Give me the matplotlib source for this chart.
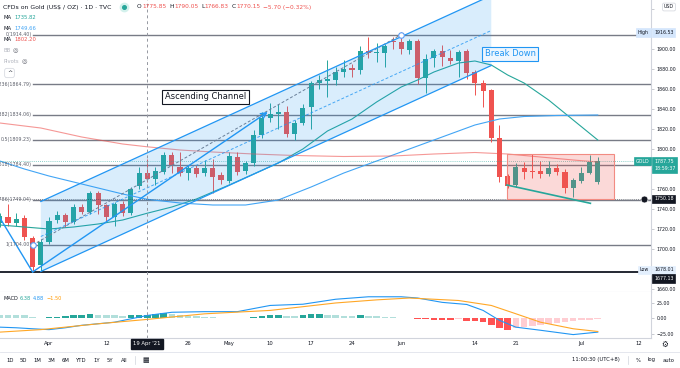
import numpy as np
import matplotlib.pyplot as plt
import matplotlib.transforms as mtransforms
from matplotlib.patches import Polygon, Rectangle

UP = '#26a69a'
DOWN = '#ef5350'
TEXT = '#131722'
GREY = '#787b86'
BLUE = '#2196f3'

# daily bars, bar 0 = 1 Apr 2021, bar 12 = 19 Apr (crosshair)
first_bar = -6
opens = [1726, 1732, 1726, 1731, 1711, 1684, 1707, 1729, 1734, 1727,
         1742, 1737, 1756, 1744, 1732, 1745, 1736, 1763, 1775.85, 1770,
         1777, 1794, 1782, 1776, 1781, 1776, 1781, 1774, 1768, 1792,
         1778, 1786, 1814, 1831, 1835, 1837, 1815, 1826, 1842, 1866,
         1868, 1869, 1877, 1881, 1879, 1898, 1896, 1896, 1908, 1907,
         1899, 1908, 1871, 1891, 1898, 1891, 1888, 1898, 1877, 1866,
         1859, 1811, 1773, 1764, 1781, 1778, 1778, 1775, 1781, 1777,
         1761, 1768, 1776, 1767]
highs = [1736, 1745, 1736, 1734, 1713, 1710, 1732, 1738, 1736, 1745,
         1745, 1758, 1758, 1745, 1747, 1748, 1762, 1782, 1790.05, 1782,
         1797, 1797, 1797, 1784, 1784, 1789, 1790, 1777, 1797, 1797,
         1788, 1819, 1837, 1846, 1845, 1843, 1829, 1845, 1868, 1874,
         1889, 1882, 1889, 1885, 1903, 1912, 1906, 1905, 1912, 1916.53,
         1910, 1910, 1895, 1900, 1904, 1899, 1899, 1900, 1879, 1869,
         1860, 1824, 1775, 1786, 1787, 1795, 1788, 1788, 1785, 1780,
         1771, 1782, 1794, 1792]
lows = [1722, 1723, 1723, 1709, 1677, 1678, 1705, 1726, 1722, 1725,
        1735, 1735, 1735, 1727, 1723, 1733, 1734, 1760, 1766.83, 1764,
        1775, 1776, 1773, 1769, 1772, 1773, 1756, 1765, 1766, 1774,
        1775, 1783, 1811, 1827, 1820, 1812, 1809, 1824, 1820, 1860,
        1852, 1864, 1872, 1872, 1875, 1891, 1887, 1882, 1900, 1895,
        1895, 1865, 1856, 1882, 1883, 1885, 1872, 1870, 1854, 1842,
        1807, 1767, 1761, 1762, 1770, 1771, 1771, 1773, 1774, 1756,
        1752, 1766, 1775, 1765]
closes = [1733, 1726, 1730, 1712, 1682, 1707, 1728, 1734, 1727, 1742,
          1737, 1756, 1744, 1732, 1745, 1736, 1760, 1776, 1770.15, 1778,
          1794, 1784, 1776, 1781, 1775, 1781, 1772, 1769, 1793, 1777,
          1786, 1814, 1831, 1835, 1837, 1815, 1826, 1841, 1866, 1869,
          1870, 1877, 1880, 1879, 1898, 1896, 1897, 1903, 1907, 1900,
          1908, 1871, 1890, 1898, 1892, 1888, 1897, 1876, 1866, 1858,
          1811, 1772, 1763, 1782, 1777, 1777, 1775, 1781, 1777, 1761,
          1769, 1776, 1787, 1787.75]

# moving averages (bar index, value)
ma_fast_i = [-6, -3, 0, 3, 6, 9, 12, 15, 18, 22, 25, 28, 31, 34, 37, 40, 43,
             45, 47, 50, 52, 54, 56, 58, 61, 64, 67]
ma_fast_v = [1724, 1722, 1720, 1722, 1725, 1729, 1735.8, 1742, 1750, 1764,
             1775, 1786, 1800, 1818, 1830, 1847, 1862, 1869, 1877, 1886,
             1888, 1884, 1874, 1866, 1849, 1829, 1809]
ma_mid_i = [-6, -3, 0, 3, 6, 9, 12, 16, 20, 24, 28, 32, 36, 40, 43, 46, 49,
            52, 55, 58, 62, 67]
ma_mid_v = [1788, 1780, 1773, 1767, 1761, 1755, 1749.7, 1746, 1744, 1744,
            1749, 1762, 1776, 1788, 1797, 1806, 1815, 1824, 1830, 1832.5,
            1833.5, 1834]
ma_slow_i = [-6, -1, 4, 9, 12, 16, 20, 25, 30, 36, 42, 47, 52, 56, 60, 64, 67]
ma_slow_v = [1826, 1821, 1812, 1805, 1802.2, 1799, 1797, 1795, 1793.5,
             1792.5, 1793, 1795, 1796.5, 1795, 1792, 1789, 1787]

# MACD pane
macd_hist = [6, 6, 5.5, 5, 3, 1, 2, 3, 3.5, 5,
             6, 8, 6, 5.5, 5, 4.5, 5.5, 6, 6.38, 7.5,
             8.5, 7, 5.5, 4.5, 3.5, 2.5, 2, 1.5, 1, 0.8,
             0.5, 2, 3.5, 5, 6, 4, 3.5, 5.5, 6.5, 7,
             5.5, 5, 4.5, 4, 5, 4, 3.5, 3, 2, 1.5,
             1, -1, -1.5, -2, -2.5, -3, -1.5, -3.5, -4, -6,
             -10, -15, -18, -16, -14, -12.5, -11, -9, -7, -5.5,
             -4, -3, -2, -1]
macd_i = [-6, -4, -2, 0, 2, 4, 8, 12, 15, 19, 23, 27, 31, 35, 39, 43, 45,
          48, 51, 53, 55, 57, 60, 64, 67]
macd_v = [-14, -15, -16.6, -18, -15, -11, -6, 4.88, 10, 11, 11, 21, 23, 31,
          35, 35, 33, 26, 22.6, 13, -3, -14, -19, -26, -22]
signal_i = [-6, -1, 6, 12, 19, 27, 35, 40, 44, 50, 54, 57, 60, 64, 67]
signal_v = [-22, -18, -8.6, -1.5, 7.5, 13, 25, 30, 33, 29, 21, 7.6, -6,
            -16.6, -21]

# fibonacci retracement
fib_ratio = ['0', '0.236', '0.382', '0.5', '0.618', '0.786', '1']
fib_price = [1914.40, 1864.79, 1834.06, 1809.23, 1784.40, 1749.04, 1704.00]

# price scale; levels hidden behind the tags get no label
price_ticks = list(range(1660, 1941, 20))
hidden_ticks = [1680, 1780, 1920, 1940]

tick_idx = [0, 7, 17, 22, 27, 32, 37, 43, 52, 57, 65, 72]
tick_lbl = ['Apr', '12', '26', 'May', '10', '17', '24', 'Jun', '14', '21',
            'Jul', '12']

W, H = 680, 368
fig = plt.figure(figsize=(W / 100, H / 100), dpi=100)
renderer = fig.canvas.get_renderer()


def ftext(x, y, s, **kw):
    kw.setdefault('va', 'center')
    kw.setdefault('fontsize', 4)
    kw.setdefault('color', TEXT)
    return fig.text(x / W, 1 - y / H, s, **kw)


def text_row(x, y, parts, gap=0.6, **kw):
    # lay out coloured pieces one after another
    for s, cc, g in parts:
        t = ftext(x, y, s, color=cc, **kw)
        x = t.get_window_extent(renderer=renderer).x1 + gap + g


ax = fig.add_axes([0, 1 - 292 / H, 651 / W, 292 / H])
mx = fig.add_axes([0, 1 - 338 / H, 651 / W, 46 / H], sharex=ax)

for a in (ax, mx):
    for s in ('top', 'left'):
        a.spines[s].set_visible(False)
    a.spines['right'].set_color('#d1d4dc')
    a.spines['bottom'].set_color('#d1d4dc')
    a.yaxis.tick_right()
    a.tick_params(axis='y', length=2, width=0.5, color='#b2b5be',
                  labelsize=3.4, labelcolor=TEXT, pad=2)

ax.set_xlim(-5.98, 73.5)
ax.set_ylim(1657, 1949)
mx.set_ylim(-31.5, 42.7)
ax.tick_params(axis='x', bottom=False, labelbottom=False)
ax.set_yticks(price_ticks)
ax.set_yticklabels(['' if v in hidden_ticks else '%.2f' % v
                    for v in price_ticks])
mx.set_yticks([25, 0, -25])
mx.set_yticklabels(['25.00', '0.00', '\u221225.00'])
mx.set_xticks(tick_idx)
mx.set_xticklabels(tick_lbl)
mx.tick_params(axis='x', length=0, pad=2.5, labelsize=3.8, labelcolor=TEXT)

# ---- candles
idx = np.arange(first_bar, first_bar + len(opens))
o = np.array(opens)
c = np.array(closes)
col = np.where(c >= o, UP, DOWN)
ax.vlines(idx, lows, highs, colors=col, lw=0.7, zorder=3)
ax.bar(idx, np.maximum(np.abs(c - o), 0.7), bottom=np.minimum(o, c),
       width=0.62, color=col, zorder=3)

# ---- moving averages
ax.plot(ma_fast_i, ma_fast_v, color='#26a69a', lw=0.8, zorder=4)
ax.plot(ma_mid_i, ma_mid_v, color='#42a5f5', lw=0.8, zorder=4)
ax.plot(ma_slow_i, ma_slow_v, color='#ef5350', lw=0.8, alpha=0.6, zorder=4)

# ---- fibonacci levels
for r, p in zip(fib_ratio, fib_price):
    ax.plot([-2, 80], [p, p], color=GREY, lw=1, zorder=2)
    ax.text(-2.1, p, '%s(%.2f)' % (r, p), fontsize=3.4, color='#5d606b',
            ha='right', va='center', zorder=6, clip_on=True)
ax.plot([-2, 43], [1704.00, 1914.40], color=GREY, lw=0.7, ls=(0, (3, 2)),
        zorder=5)
ax.plot([-2, 43], [1704.00, 1914.40], 'o', ms=4, mfc='white', mec='#5b9cf6',
        mew=0.8, zorder=7)

# other horizontal lines
ax.axhline(1677.13, color=TEXT, lw=1.3, zorder=4)
ax.axhline(1750.18, color=TEXT, lw=0.6, ls=(0, (1, 1.5)), alpha=0.6, zorder=4)
ax.axhline(1787.75, color=UP, lw=0.6, ls=(0, (1, 1.5)), alpha=0.7, zorder=4)

# ---- ascending channel
ch_i = [-1, 54]
ch_low = [1677.5, 1883.5]
ch_w = 70
ax.add_patch(Polygon([(ch_i[0], ch_low[0]), (ch_i[1], ch_low[1]),
                      (ch_i[1], ch_low[1] + ch_w), (ch_i[0], ch_low[0] + ch_w)],
                     closed=True, fc=BLUE, alpha=0.17, ec='none', zorder=5))
ax.plot(ch_i, ch_low, color=BLUE, lw=0.9, zorder=5)
ax.plot(ch_i, [v + ch_w for v in ch_low], color=BLUE, lw=0.9, zorder=5)
ax.plot(ch_i, [v + ch_w / 2 for v in ch_low], color=BLUE, lw=0.7,
        ls=(0, (3, 2)), alpha=0.8, zorder=5)

# path with arrow from the low
ax.plot([-6.5, -2], [1738, 1677], color=BLUE, lw=1, zorder=5)
ax.annotate('', xy=(26.7, 1837), xytext=(-2, 1677),
            arrowprops=dict(arrowstyle='->', color=BLUE, lw=1,
                            shrinkA=0, shrinkB=0), zorder=5)

# ---- consolidation box and trend line
ax.add_patch(Rectangle((55.9, 1749.7), 13.1, 45, fc=DOWN, alpha=0.22,
                       ec='none', zorder=5))
ax.add_patch(Rectangle((55.9, 1749.7), 13.1, 45, fc='none', ec='#f28b82',
                       lw=0.8, zorder=5))
ax.plot([55.9, 66.1], [1764, 1745.7], color=UP, lw=1.2, zorder=6)

# ---- annotations
ax.text(19.1, 1852, 'Ascending Channel', fontsize=6, color=TEXT, ha='center',
        va='center', zorder=8,
        bbox=dict(boxstyle='square,pad=0.3', fc='white', ec=TEXT, lw=0.8))
ax.text(56.3, 1895, 'Break Down', fontsize=6, color=BLUE, ha='center',
        va='center', zorder=8,
        bbox=dict(boxstyle='square,pad=0.3', fc='#eef6fe', ec=BLUE, lw=0.8))

# crosshair on 19 Apr
for a in (ax, mx):
    a.axvline(12, color='#9598a1', lw=0.7, ls=(0, (3, 3)), zorder=9)

# ---- MACD
hist = np.array(macd_hist)
prev = np.concatenate([[hist[0] + 1], hist[:-1]])
hcol = np.where(hist >= 0, np.where(hist > prev, '#26a69a', '#b2dfdb'),
                np.where(hist < prev, '#ff5252', '#ffcdd2'))
mx.bar(idx, hist, width=0.8, color=hcol, zorder=2)
mx.plot(macd_i, macd_v, color=BLUE, lw=0.8, zorder=3)
mx.plot(signal_i, signal_v, color='#ffa726', lw=0.8, zorder=3)
text_row(3, 299, [('MACD', TEXT, 1.5), ('6.38', UP, 1.5),
                  ('4.88', BLUE, 1.5), ('\u22121.50', '#ff9800', 0)],
         fontsize=3.6)

# ---- right axis tags
tr = mtransforms.blended_transform_factory(fig.transFigure, ax.transData)


def tag(price, s, fc, tc, x=654, ec=None, ha='left'):
    ax.text(x / W, price, s, transform=tr, fontsize=3.4, color=tc, ha=ha,
            va='center', clip_on=False, zorder=20, linespacing=1.5,
            bbox=dict(boxstyle='square,pad=0.35', fc=fc, ec=ec or fc, lw=0.5))


tag(1916.53, '1916.53', '#d4e6fc', TEXT)
tag(1916.53, 'High', '#d4e6fc', TEXT, x=649, ha='right')
tag(1784, '1787.75\n18:59:37', UP, 'white')
tag(1787.75, 'GOLD', UP, 'white', x=649, ha='right')
tag(1750.18, '1750.18', TEXT, 'white')
tag(1679, '1678.01', '#e3effd', TEXT)
tag(1679, 'Low', '#e3effd', TEXT, x=649, ha='right')
tag(1670.5, '1677.13', TEXT, 'white')
ax.plot([644 / W], [1750.18], 'o', transform=tr, ms=5, mfc=TEXT, mec='white',
        mew=0.5, clip_on=False, zorder=20)
ftext(669, 7, 'USD', fontsize=3.4, ha='center',
      bbox=dict(boxstyle='round,pad=0.3', fc='white', ec='#d1d4dc', lw=0.5))

# ---- header / legend
ftext(3, 7, 'CFDs on Gold (US$ / OZ) \u00b7 1D \u00b7 TVC', fontsize=4.4)
ax.plot([124 / W], [1 - 7 / H], 'o', transform=fig.transFigure, ms=6,
        color='#d3f1ec', clip_on=False, zorder=20)
ax.plot([124 / W], [1 - 7 / H], 'o', transform=fig.transFigure, ms=2.6,
        color=UP, clip_on=False, zorder=21)
text_row(137, 7, [('O', TEXT, 0), ('1775.85', DOWN, 2.5),
                  ('H', TEXT, 0), ('1790.05', DOWN, 2.5),
                  ('L', TEXT, 0), ('1766.83', DOWN, 2.5),
                  ('C', TEXT, 0), ('1770.15', DOWN, 2.5),
                  ('\u22125.70 (\u22120.32%)', DOWN, 0)], gap=0.4,
         fontsize=4.2)

for y, v, cc in [(17.3, '1735.82', UP), (28.7, '1749.66', '#42a5f5'),
                 (39.3, '1802.20', DOWN)]:
    ftext(3, y, 'MA', fontsize=3.8)
    ftext(14, y, v, fontsize=3.8, color=cc)
ftext(3, 50.3, 'BB', fontsize=3.8, color='#b2b5be')
ftext(13, 50.3, '\u25ce', fontsize=4.5, color='#5d606b')
ftext(3, 61.3, 'Pivots', fontsize=3.8, color='#b2b5be')
ftext(22, 61.3, '\u25ce', fontsize=4.5, color='#5d606b')
ftext(9.5, 73, '^', fontsize=4.5, ha='center',
      bbox=dict(boxstyle='round,pad=0.35', fc='white', ec='#d1d4dc', lw=0.5))

# ---- time axis extras and toolbar
ftext(147, 344, "19 Apr '21", fontsize=3.8, color='white', ha='center',
      bbox=dict(boxstyle='square,pad=0.4', fc=TEXT, ec=TEXT))
ftext(665, 344, '\u2699', fontsize=5.5, ha='center')
fig.add_artist(plt.Line2D([0, 1], [1 - 352 / H] * 2, color='#e0e3eb',
                          lw=0.6, transform=fig.transFigure))
for x, s in [(10, '1D'), (23, '5D'), (37, '1M'), (51, '3M'), (66, '6M'),
             (81, 'YTD'), (97, '1Y'), (110, '5Y'), (124, 'All')]:
    ftext(x, 360, s, fontsize=3.8, ha='center')
fig.add_artist(plt.Line2D([135 / W] * 2, [1 - 356 / H, 1 - 364 / H],
                          color='#d1d4dc', lw=0.5, transform=fig.transFigure))
ftext(146, 360, '\u25a6', fontsize=5, ha='center')
ftext(572, 360, '11:00:30 (UTC+8)', fontsize=3.8)
fig.add_artist(plt.Line2D([628 / W] * 2, [1 - 356 / H, 1 - 364 / H],
                          color='#d1d4dc', lw=0.5, transform=fig.transFigure))
ftext(638, 360, '%', fontsize=3.8, ha='center')
ftext(652, 360, 'log', fontsize=3.8, ha='center')
ftext(669, 360, 'auto', fontsize=3.8, ha='center')

fig.savefig('out.png', dpi=100)
